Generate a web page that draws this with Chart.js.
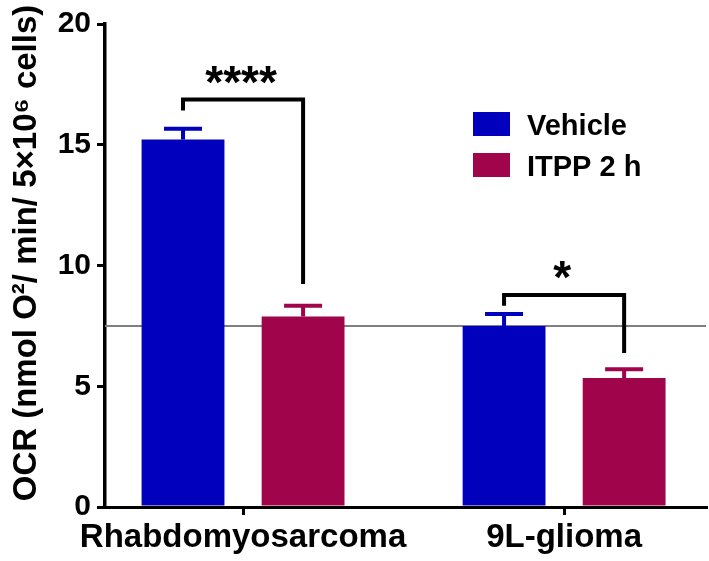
<!DOCTYPE html>
<html>
<head>
<meta charset="utf-8">
<script src="https://cdn.jsdelivr.net/npm/chart.js@4"></script>
<style>
  html, body { margin: 0; padding: 0; background: #ffffff; }
  #wrap { width: 709px; height: 561px; }
</style>
</head>
<body>
<div id="wrap"><canvas id="c" width="709" height="561"></canvas></div>
<script>
// ---- data ----
const categories = ['Rhabdomyosarcoma', '9L-glioma'];
const seriesNames = ['Vehicle', 'ITPP 2 h'];
const vehicleValues = [15.22, 7.49];
const vehicleErrors = [0.44, 0.50];
const itppValues = [7.89, 5.34];
const itppErrors = [0.44, 0.36];
const yTickValues = [0, 5, 10, 15, 20];
const referenceLine = 7.5;
const bracketTop = [16.87, 8.78];
const bracketLeftEnd = [16.42, 8.33];
const bracketRightEnd = [9.23, 6.38];
const significance = ['****', '*'];
const yAxisTitle = 'OCR (nmol O\u00B2/ min/ 5\u00D710\u2076 cells)';

const FONT = "'Liberation Sans', Arial, sans-serif";
const BLUE = '#0000BD';
const MAROON = '#A0054B';

const toPoints = (vals) => vals.map((v, i) => ({ x: i, y: v }));

const bgPlugin = {
  id: 'bg',
  beforeDraw(chart) {
    const ctx = chart.ctx;
    ctx.save();
    ctx.fillStyle = '#ffffff';
    ctx.fillRect(0, 0, chart.width, chart.height);
    ctx.restore();
  }
};

const refLinePlugin = {
  id: 'refLine',
  beforeDatasetsDraw(chart) {
    const { ctx, chartArea } = chart;
    const y = chart.scales.y.getPixelForValue(referenceLine);
    ctx.save();
    ctx.strokeStyle = '#808080';
    ctx.lineWidth = 2;
    ctx.beginPath();
    ctx.moveTo(chartArea.left, y);
    ctx.lineTo(chartArea.right, y);
    ctx.stroke();
    ctx.restore();
  }
};

const errorBarPlugin = {
  id: 'errorBars',
  afterDatasetsDraw(chart) {
    const ctx = chart.ctx;
    const yS = chart.scales.y;
    const errs = [vehicleErrors, itppErrors];
    chart.data.datasets.forEach((ds, d) => {
      const meta = chart.getDatasetMeta(d);
      meta.data.forEach((el, i) => {
        const v = ds.data[i].y;
        const yTop = yS.getPixelForValue(v + errs[d][i]);
        ctx.save();
        ctx.strokeStyle = ds.backgroundColor;
        ctx.lineWidth = 4;
        ctx.beginPath();
        ctx.moveTo(el.x, el.y);
        ctx.lineTo(el.x, yTop);
        ctx.moveTo(el.x - 19, yTop);
        ctx.lineTo(el.x + 19, yTop);
        ctx.stroke();
        ctx.restore();
      });
    });
  }
};

const bracketPlugin = {
  id: 'brackets',
  afterDatasetsDraw(chart) {
    const ctx = chart.ctx;
    const yS = chart.scales.y;
    const m0 = chart.getDatasetMeta(0);
    const m1 = chart.getDatasetMeta(1);
    categories.forEach((c, g) => {
      const xl = m0.data[g].x;
      const xr = m1.data[g].x;
      const yt = yS.getPixelForValue(bracketTop[g]);
      const yl = yS.getPixelForValue(bracketLeftEnd[g]);
      const yr = yS.getPixelForValue(bracketRightEnd[g]);
      ctx.save();
      ctx.strokeStyle = '#000';
      ctx.lineWidth = 4;
      ctx.lineJoin = 'miter';
      ctx.beginPath();
      ctx.moveTo(xl, yl);
      ctx.lineTo(xl, yt);
      ctx.lineTo(xr, yt);
      ctx.lineTo(xr, yr);
      ctx.stroke();
      ctx.fillStyle = '#000';
      ctx.font = 'bold 46px ' + FONT;
      ctx.textAlign = 'center';
      ctx.textBaseline = 'alphabetic';
      ctx.fillText(significance[g], (xl + xr) / 2 - 2, yt - 2);
      ctx.restore();
    });
  }
};

const yTitlePlugin = {
  id: 'yTitle',
  afterDraw(chart, args, opts) {
    const ctx = chart.ctx;
    ctx.save();
    ctx.translate(opts.x, opts.y);
    ctx.rotate(-Math.PI / 2);
    ctx.fillStyle = '#000';
    ctx.font = 'bold 33px ' + FONT;
    ctx.textAlign = 'center';
    ctx.textBaseline = 'middle';
    ctx.fillText(yAxisTitle, 0, 0);
    ctx.restore();
  }
};

const legendPlugin = {
  id: 'customLegend',
  afterDraw(chart, args, opts) {
    const ctx = chart.ctx;
    ctx.save();
    chart.data.datasets.forEach((ds, i) => {
      const top = opts.y + i * opts.rowGap;
      ctx.fillStyle = ds.backgroundColor;
      ctx.fillRect(opts.x, top, opts.boxW, opts.boxH);
      ctx.fillStyle = '#000';
      ctx.font = 'bold 29px ' + FONT;
      ctx.textAlign = 'left';
      ctx.textBaseline = 'alphabetic';
      ctx.fillText(ds.label, opts.textX, top + 23);
    });
    ctx.restore();
  }
};

new Chart(document.getElementById('c'), {
  type: 'bar',
  data: {
    datasets: [
      { label: seriesNames[0], data: toPoints(vehicleValues), backgroundColor: BLUE, borderWidth: 0 },
      { label: seriesNames[1], data: toPoints(itppValues), backgroundColor: MAROON, borderWidth: 0 }
    ]
  },
  options: {
    responsive: false,
    animation: false,
    devicePixelRatio: 1,
    categoryPercentage: 0.748,
    barPercentage: 0.69,
    layout: { padding: { left: 0, right: 3, top: 15, bottom: 0 } },
    plugins: {
      legend: { display: false },
      tooltip: { enabled: false },
      customLegend: { x: 473, y: 112, boxW: 37, boxH: 24, rowGap: 41, textX: 527 },
      yTitle: { x: 27, y: 253 }
    },
    scales: {
      x: {
        type: 'linear',
        offset: false,
        min: -0.43,
        max: 1.442,
        afterBuildTicks: (s) => { s.ticks = categories.map((c, i) => ({ value: i })); },
        afterFit: (s) => { s.height = 54; },
        ticks: {
          callback: (v) => categories[v],
          color: '#000',
          font: { family: FONT, size: 33, weight: 'bold' },
          padding: 3,
          maxRotation: 0,
          autoSkip: false
        },
        grid: { offset: false, drawOnChartArea: false, tickLength: 8, color: '#000', lineWidth: 3 },
        border: { color: '#000', width: 3 }
      },
      y: {
        min: 0,
        max: 20,
        afterBuildTicks: (s) => { s.ticks = yTickValues.map(v => ({ value: v })); },
        afterFit: (s) => { s.width = 105; },
        ticks: {
          color: '#000',
          font: { family: FONT, size: 30, weight: 'bold' },
          padding: 6
        },
        grid: { drawOnChartArea: false, tickLength: 8, color: '#000', lineWidth: 3 },
        border: { color: '#000', width: 3.5 },
        title: { display: false }
      }
    }
  },
  plugins: [bgPlugin, refLinePlugin, errorBarPlugin, bracketPlugin, yTitlePlugin, legendPlugin]
});
</script>
</body>
</html>
